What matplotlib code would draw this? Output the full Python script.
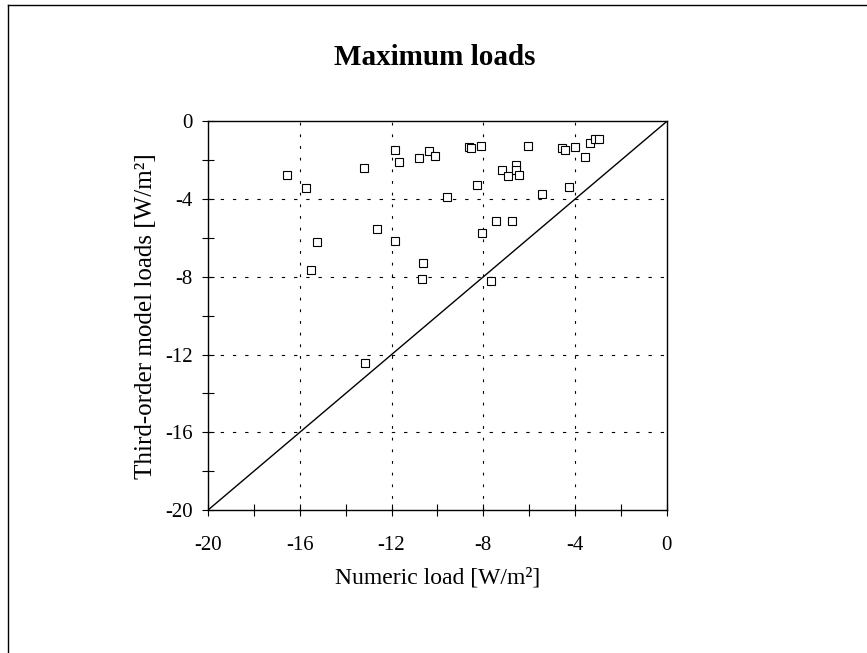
import matplotlib
matplotlib.use("Agg")
import matplotlib.pyplot as plt
import matplotlib.ticker as mticker
from matplotlib.lines import Line2D

plt.rcParams['font.family'] = ['Liberation Serif', 'DejaVu Serif']

numeric_load = [-16.55, -15.73, -15.26, -15.53, -13.2, -12.65, -11.84, -11.69, -11.84,
                -10.79, -10.38, -10.1, -10.62, -10.65, -13.16,
                -8.64, -8.52, -8.12, -6.06, -4.58, -4.43, -4.0, -3.56, -3.36, -3.12, -2.95,
                -6.58, -6.58, -7.19, -6.93, -6.46, -8.27, -4.26, -5.45, -9.57,
                -7.45, -6.75, -8.06, -7.65]
model_load = [-2.76, -3.45, -6.2, -7.64, -2.42, -5.52, -1.48, -2.11, -6.17,
              -1.87, -1.53, -1.77, -7.27, -8.12, -12.42,
              -1.29, -1.39, -1.25, -1.25, -1.39, -1.49, -1.29, -1.84, -1.11, -0.91, -0.88,
              -2.25, -2.49, -2.52, -2.83, -2.76, -3.28, -3.35, -3.73, -3.9,
              -5.1, -5.1, -5.75, -8.23]
diag = [-20, 0]
major_ticks = [-20, -16, -12, -8, -4, 0]
minor_ticks = [-18, -14, -10, -6, -2]
grid_vals = [-16, -12, -8, -4]

fig = plt.figure(figsize=(8.67, 6.53), dpi=100)
ax = fig.add_axes([0.240, 0.219, 0.529, 0.595])

ax.plot(diag, diag, color='black', lw=1.0, zorder=2)
ax.plot(numeric_load, model_load, linestyle='none', marker='s', markersize=6,
        markerfacecolor='white', markeredgecolor='black', markeredgewidth=0.8, zorder=3)

ax.set_xlim(-20, 0)
ax.set_ylim(-20, 0)
ax.set_xticks(major_ticks)
ax.set_yticks(major_ticks)
ax.set_xticks(minor_ticks, minor=True)
ax.set_yticks(minor_ticks, minor=True)
ax.tick_params(which='both', direction='inout', length=8, width=0.8, labelsize=15)
ax.tick_params(axis='x', which='major', pad=15)
ax.tick_params(axis='y', which='major', pad=7)
fmt = mticker.FuncFormatter(lambda v, p: f"{int(v)}")
ax.xaxis.set_major_formatter(fmt)
ax.yaxis.set_major_formatter(fmt)

for v in grid_vals:
    ax.axvline(v, color='black', lw=0.8, linestyle=(0, (2.5, 8)), zorder=1)
    ax.axhline(v, color='black', lw=0.8, linestyle=(0, (3, 8)), zorder=1)

for s in ax.spines.values():
    s.set_linewidth(1.0)

ax.set_xlabel('Numeric load [W/m²]', fontsize=17, labelpad=9)
ax.set_ylabel('Third-order model loads [W/m²]', fontsize=18, labelpad=6)
fig.text(0.502, 0.912, 'Maximum loads', ha='center', va='center', fontsize=21, fontweight='bold')

# page frame (top and left edges)
fig.add_artist(Line2D([0.009, 1.0], [0.992, 0.992], transform=fig.transFigure, color='black', lw=1.0))
fig.add_artist(Line2D([0.009, 0.009], [0.0, 0.992], transform=fig.transFigure, color='black', lw=1.0))

fig.savefig('out.png', dpi=100)
